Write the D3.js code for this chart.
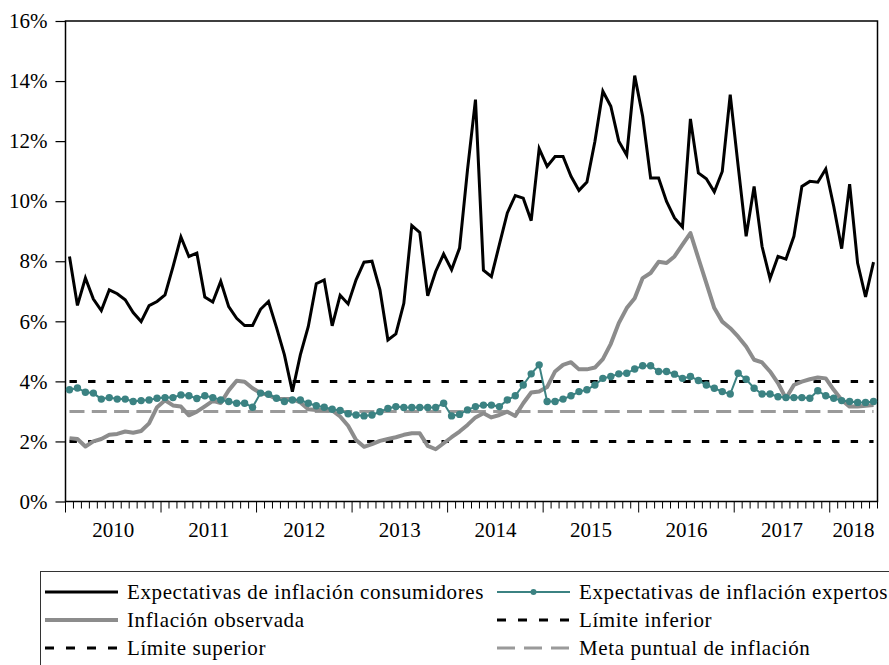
<!DOCTYPE html>
<html>
<head>
<meta charset="utf-8">
<script src="https://cdn.jsdelivr.net/npm/d3@7"></script>
<style>
  html, body { margin: 0; padding: 0; background: #fff; }
  svg { display: block; font-family: "Liberation Serif", "Times New Roman", serif; }
</style>
</head>
<body>
<svg id="chart" width="889" height="665"></svg>
<script>
// ---- Data (monthly, Jan 2010 – Jun 2018), percent ----
const years = ["2010", "2011", "2012", "2013", "2014", "2015", "2016", "2017", "2018"];
const yTicks = [0, 2, 4, 6, 8, 10, 12, 14, 16];

const consumidores = [
  8.16, 6.53, 7.44, 6.74, 6.36, 7.05, 6.92, 6.72, 6.29, 5.99, 6.52, 6.66,
  6.88, 7.81, 8.81, 8.16, 8.27, 6.81, 6.64, 7.33, 6.49, 6.10, 5.86, 5.86,
  6.40, 6.66, 5.80, 4.88, 3.66, 4.88, 5.83, 7.25, 7.38, 5.85, 6.87, 6.58,
  7.38, 7.97, 8.00, 7.05, 5.38, 5.58, 6.60, 9.19, 8.96, 6.85, 7.66, 8.24,
  7.72, 8.44, 11.05, 13.38, 7.70, 7.49, 8.55, 9.61, 10.19, 10.10, 9.35, 11.75,
  11.16, 11.49, 11.49, 10.83, 10.36, 10.64, 11.99, 13.66, 13.16, 12.00, 11.53, 14.18,
  12.83, 10.77, 10.77, 9.99, 9.44, 9.14, 12.74, 10.94, 10.75, 10.31, 10.99, 13.55,
  11.16, 8.83, 10.49, 8.49, 7.42, 8.16, 8.07, 8.83, 10.49, 10.66, 10.63, 11.07,
  9.83, 8.42, 10.57, 7.94, 6.81, 7.97
];

const expertos = [
  3.72, 3.78, 3.64, 3.61, 3.41, 3.46, 3.41, 3.41, 3.33, 3.36, 3.38, 3.44,
  3.46, 3.46, 3.55, 3.52, 3.43, 3.52, 3.46, 3.38, 3.33, 3.27, 3.27, 3.14,
  3.61, 3.57, 3.44, 3.33, 3.38, 3.38, 3.27, 3.19, 3.14, 3.07, 3.03, 2.92,
  2.88, 2.85, 2.88, 2.99, 3.10, 3.16, 3.13, 3.13, 3.13, 3.13, 3.13, 3.27,
  2.85, 2.90, 3.05, 3.16, 3.21, 3.21, 3.16, 3.38, 3.52, 3.88, 4.25, 4.55,
  3.33, 3.33, 3.41, 3.52, 3.66, 3.72, 3.88, 4.10, 4.16, 4.25, 4.27, 4.41,
  4.52, 4.52, 4.33, 4.33, 4.24, 4.10, 4.16, 4.03, 3.88, 3.77, 3.66, 3.58,
  4.27, 4.07, 3.77, 3.58, 3.58, 3.49, 3.46, 3.46, 3.46, 3.44, 3.69, 3.52,
  3.44, 3.36, 3.33, 3.30, 3.30, 3.33
];

const observada = [
  2.11, 2.08, 1.83, 2.00, 2.08, 2.22, 2.25, 2.33, 2.29, 2.35, 2.60, 3.14,
  3.37, 3.20, 3.16, 2.87, 2.99, 3.17, 3.35, 3.28, 3.70, 4.02, 3.99, 3.77,
  3.61, 3.55, 3.41, 3.41, 3.41, 3.30, 3.07, 3.05, 3.05, 3.03, 2.83, 2.52,
  2.05, 1.82, 1.91, 2.02, 2.08, 2.14, 2.22, 2.27, 2.27, 1.85, 1.74, 1.94,
  2.14, 2.33, 2.55, 2.80, 2.94, 2.80, 2.88, 2.99, 2.85, 3.27, 3.63, 3.66,
  3.81, 4.33, 4.55, 4.64, 4.40, 4.40, 4.46, 4.74, 5.25, 5.94, 6.44, 6.77,
  7.44, 7.61, 7.98, 7.94, 8.16, 8.55, 8.94, 8.10, 7.27, 6.44, 5.99, 5.77,
  5.49, 5.16, 4.72, 4.63, 4.33, 3.94, 3.44, 3.88, 3.99, 4.07, 4.13, 4.10,
  3.72, 3.38, 3.16, 3.16, 3.19, 3.21
];

const limiteInferior = 2;
const limiteSuperior = 4;
const metaPuntual = 3;

const legendLabels = [
  "Expectativas de inflación consumidores",
  "Expectativas de inflación expertos",
  "Inflación observada",
  "Límite inferior",
  "Límite superior",
  "Meta puntual de inflación"
];

// ---- Layout ----
const W = 889, H = 665;
const plotL = 65.5, plotR = 877.5, plotT = 21, plotB = 501.5;
const nMonths = consumidores.length; // 102
const svg = d3.select("#chart");
svg.append("rect").attr("width", W).attr("height", H).attr("fill", "#fff");

const x = d3.scaleLinear().domain([0, nMonths]).range([plotL, plotR]);
const y = d3.scaleLinear().domain([0, 16]).range([plotB, plotT]);

const teal = "#3b8282";
const grayLine = "#8c8c8c";
const grayDash = "#9a9a9a";

// ---- Frame ----
svg.append("rect")
  .attr("x", plotL).attr("y", plotT)
  .attr("width", plotR - plotL).attr("height", plotB - plotT)
  .attr("fill", "none").attr("stroke", "#000").attr("stroke-width", 1.5);

// ---- Y axis ----
const yAxis = d3.axisLeft(y).tickValues(yTicks).tickSize(10).tickPadding(8)
  .tickFormat(d => d + "%");
const gy = svg.append("g").attr("transform", `translate(${plotL},0)`).call(yAxis);
gy.select(".domain").remove();
gy.selectAll(".tick line").attr("stroke", "#000").attr("stroke-width", 1.2);
gy.selectAll(".tick text").attr("font-size", 21).attr("fill", "#000")
  .attr("font-family", '"Liberation Serif", "Times New Roman", serif');

// ---- X axis (monthly minor ticks, yearly major ticks) ----
const months = d3.range(0, nMonths + 1);
const gx = svg.append("g");
gx.selectAll("line.tick")
  .data(months)
  .join("line")
  .attr("x1", d => x(d)).attr("x2", d => x(d))
  .attr("y1", plotB)
  .attr("y2", d => d % 12 === 0 ? plotB + 11 : plotB + 7)
  .attr("stroke", "#000").attr("stroke-width", 1);
gx.selectAll("text.year")
  .data(years)
  .join("text")
  .attr("class", "year")
  .attr("x", (d, i) => x(i * 12 + Math.min(12, nMonths - i * 12) / 2))
  .attr("y", 537)
  .attr("text-anchor", "middle")
  .attr("font-size", 21)
  .attr("fill", "#000")
  .text(d => d);

// ---- Reference lines ----
function refLine(val, color, dash) {
  svg.append("line")
    .attr("x1", x(0.5)).attr("x2", x(nMonths - 0.5))
    .attr("y1", y(val)).attr("y2", y(val))
    .attr("stroke", color).attr("stroke-width", 3)
    .attr("stroke-dasharray", dash);
}
refLine(metaPuntual, grayDash, "15,7.3");
refLine(limiteSuperior, "#000", "7.4,11.2");
refLine(limiteInferior, "#000", "7.4,11.2");

// ---- Series ----
const line = d3.line().x((d, i) => x(i + 0.5)).y(d => y(d));

svg.append("path").datum(observada)
  .attr("d", line).attr("fill", "none")
  .attr("stroke", grayLine).attr("stroke-width", 4).attr("stroke-linejoin", "round");

svg.append("path").datum(expertos)
  .attr("d", line).attr("fill", "none")
  .attr("stroke", teal).attr("stroke-width", 2);
svg.append("g").selectAll("circle")
  .data(expertos)
  .join("circle")
  .attr("cx", (d, i) => x(i + 0.5)).attr("cy", d => y(d))
  .attr("r", 3.7).attr("fill", teal);

svg.append("path").datum(consumidores)
  .attr("d", line).attr("fill", "none")
  .attr("stroke", "#000").attr("stroke-width", 3).attr("stroke-linejoin", "miter");

// ---- Legend ----
const lg = svg.append("g");
lg.append("rect")
  .attr("x", 40.5).attr("y", 571.5).attr("width", 900).attr("height", 200)
  .attr("fill", "none").attr("stroke", "#333").attr("stroke-width", 1);

const legendItems = [
  { label: legendLabels[0], col: 0, row: 0, color: "#000", width: 3, dash: null, dot: false },
  { label: legendLabels[1], col: 1, row: 0, color: teal, width: 2, dash: null, dot: true },
  { label: legendLabels[2], col: 0, row: 1, color: grayLine, width: 4, dash: null, dot: false },
  { label: legendLabels[3], col: 1, row: 1, color: "#000", width: 3, dash: "9,12", dot: false },
  { label: legendLabels[4], col: 0, row: 2, color: "#000", width: 3, dash: "9,12", dot: false },
  { label: legendLabels[5], col: 1, row: 2, color: grayDash, width: 3, dash: "18,9", dot: false }
];
const colX = [45, 497];
const rowY = [592, 620, 648];
legendItems.forEach(it => {
  const x0 = colX[it.col], yy = rowY[it.row];
  const l = lg.append("line")
    .attr("x1", x0).attr("x2", x0 + 73).attr("y1", yy).attr("y2", yy)
    .attr("stroke", it.color).attr("stroke-width", it.width);
  if (it.dash) l.attr("stroke-dasharray", it.dash);
  if (it.dot) lg.append("circle").attr("cx", x0 + 36.5).attr("cy", yy).attr("r", 3).attr("fill", it.color);
  lg.append("text")
    .attr("x", x0 + 82).attr("y", yy + 7)
    .attr("font-size", 21).attr("fill", "#000")
    .attr("letter-spacing", 0.6)
    .text(it.label);
});
</script>
</body>
</html>
